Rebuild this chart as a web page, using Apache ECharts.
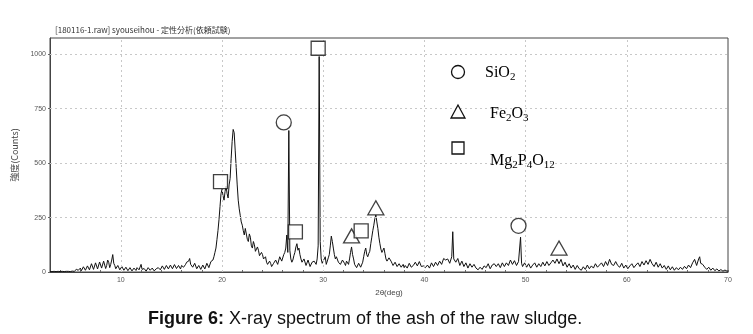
<!DOCTYPE html>
<html>
<head>
<meta charset="utf-8">
<script src="https://cdn.jsdelivr.net/npm/echarts@6/dist/echarts.min.js"></script>
<style>html,body{margin:0;padding:0;background:#fff}#c{width:753px;height:334px}</style>
</head>
<body>
<div id="c"></div>
<script>
// XRD scan: uniformly stepped 2θ from scanStart in steps of scanStep; counts
const scanStart = 3.0;
const scanStep = 0.1;
const counts = [
/* 3 */ 2,3,2,2,3,4,2,3,3,2,
/* 4 */ 2,3,3,2,2,4,3,2,3,3,
/* 5 */ 2,3,4,3,3,2,12,5,8,15,
/* 6 */ 18,6,10,24,22,8,14,28,30,10,
/* 7 */ 16,38,30,12,20,42,36,14,22,46,
/* 8 */ 38,18,25,50,42,16,30,55,45,20,
/* 9 */ 35,55,80,40,30,15,18,30,22,10,
/*10 */ 14,25,20,8,12,22,18,6,10,20,
/*11 */ 16,5,8,18,14,7,20,12,10,15,
/*12 */ 35,12,8,16,12,4,6,20,28,8,
/*13 */ 10,18,14,5,8,15,12,20,25,10,
/*14 */ 18,28,22,12,16,30,24,14,18,32,
/*15 */ 26,15,20,34,28,16,18,30,24,14,
/*16 */ 30,38,22,28,35,45,40,50,62,35,
/*17 */ 38,22,28,40,32,15,18,30,26,12,
/*18 */ 16,32,30,14,22,40,38,20,28,48,
/*19 */ 45,55,70,90,110,150,190,240,300,360,
/*20 */ 380,350,330,370,395,360,340,400,430,520,
/*21 */ 600,655,640,560,480,400,330,290,260,230,
/*22 */ 215,190,170,200,195,150,140,175,160,120,
/*23 */ 110,140,125,95,90,115,100,75,70,90,
/*24 */ 80,60,55,70,45,35,30,50,40,25,
/*25 */ 25,40,45,55,60,35,40,70,75,50,
/*26 */ 55,80,90,110,170,90,650,100,60,45,
/*27 */ 55,75,90,115,130,100,110,80,60,45,
/*28 */ 40,60,55,30,35,55,50,25,30,45,
/*29 */ 40,50,45,35,60,120,990,140,60,40,
/*30 */ 45,60,70,35,40,65,80,120,165,140,
/*31 */ 110,80,60,70,75,45,50,35,40,55,
/*32 */ 55,40,30,50,45,35,60,90,115,80,
/*33 */ 60,35,30,20,20,40,35,22,25,45,
/*34 */ 70,95,110,80,70,85,95,130,160,190,
/*35 */ 215,245,262,230,200,160,130,105,90,100,
/*36 */ 110,85,60,50,45,65,70,50,40,30,
/*37 */ 30,45,45,25,25,38,40,22,30,35,
/*38 */ 20,30,35,18,25,40,40,22,20,30,
/*39 */ 35,45,50,28,30,48,45,25,20,28,
/*40 */ 30,20,15,32,35,18,25,42,40,25,
/*41 */ 30,45,45,30,35,50,55,35,40,62,
/*42 */ 70,55,50,60,60,40,45,70,185,60,
/*43 */ 55,45,40,62,60,30,35,50,45,25,
/*44 */ 30,42,40,18,20,38,35,22,25,35,
/*45 */ 30,18,15,10,8,22,25,12,18,28,
/*46 */ 30,20,22,38,35,15,20,32,30,38,
/*47 */ 40,25,28,38,35,20,22,42,40,25,
/*48 */ 30,42,45,30,35,55,55,35,40,52,
/*49 */ 50,30,35,48,45,160,40,25,30,42,
/*50 */ 40,22,25,38,35,18,20,32,30,42,
/*51 */ 40,22,25,38,35,25,30,45,45,28,
/*52 */ 30,48,50,30,35,42,40,55,55,40,
/*53 */ 45,60,65,38,40,58,55,28,30,45,
/*54 */ 40,22,25,38,35,18,20,32,30,12,
/*55 */ 15,30,28,15,20,8,10,24,22,12,
/*56 */ 15,32,30,15,18,28,25,18,20,38,
/*57 */ 35,22,25,32,30,42,40,25,28,48,
/*58 */ 45,30,35,58,55,35,40,30,30,48,
/*59 */ 45,30,35,22,25,40,38,18,20,32,
/*60 */ 30,15,18,28,25,38,35,20,22,32,
/*61 */ 30,42,40,25,28,48,45,32,35,52,
/*62 */ 50,35,38,58,55,38,40,25,30,45,
/*63 */ 42,22,25,38,35,18,20,30,28,12,
/*64 */ 15,28,25,10,12,24,22,8,10,20,
/*65 */ 18,10,12,22,20,12,14,26,25,15,
/*66 */ 18,32,30,20,22,42,40,58,55,30,
/*67 */ 35,60,70,40,45,35,30,22,20,12,
/*68 */ 15,22,20,8,10,18,15,6,8,14,
/*69 */ 12,5,6,11,10,4,5,9,8,4,
/*70 */ 5
];

// Phase marker positions [2θ, counts]
const sio2Marks = [[26.1, 687], [49.3, 212]];
const fe2o3Marks = [[32.8, 166], [35.2, 295], [53.3, 110]];
const mgpoMarks = [[19.85, 415], [27.25, 184], [33.75, 189], [29.5, 1028]];

// Axis ticks and labels
const xLabels = [10, 20, 30, 40, 50, 60, 70];
const xMinorTicks = [4,6,8,10,12,14,16,18,20,22,24,26,28,30,32,34,36,38,40,42,44,46,48,50,52,54,56,58,60,62,64,66,68,70];
const xGrid = [10, 20, 30, 40, 50, 60];
const yGrid = [250, 500, 750, 1000];

const chartTitle = '[180116-1.raw] syouseihou - 定性分析(依頼試験)';
const xName = '2θ(deg)';
const yName = '強度(Counts)';

const spectrum = counts.map((c, i) => [+(scanStart + i * scanStep).toFixed(1), c]);

const chart = echarts.init(document.getElementById('c'), null, {renderer: 'canvas'});

const gridLines = [];
xGrid.forEach(v => gridLines.push({xAxis: v}));
yGrid.forEach(v => gridLines.push({yAxis: v}));

const markStyle = {color: '#fff', borderColor: '#111', borderWidth: 1.3};

const serif = '"Liberation Serif","DejaVu Serif",serif';
const legendRich = {
  n: {fontFamily: serif, fontSize: 16, color: '#111', verticalAlign: 'top', lineHeight: 18, padding: [0, 0, 6, 0]},
  s: {fontFamily: serif, fontSize: 11, color: '#111', verticalAlign: 'bottom', lineHeight: 13}
};

chart.setOption({
  animation: false,
  backgroundColor: '#fff',
  title: [
    {text: chartTitle, left: 50, top: 21,
     textStyle: {fontSize: 8, fontWeight: 'normal', color: '#333', fontFamily: '"Noto Sans CJK JP","DejaVu Sans",sans-serif'}},
    {text: '{b|Figure 6:}{n| X-ray spectrum of the ash of the raw sludge.}', left: 143, top: 305,
     textStyle: {rich: {
       b: {fontSize: 18, fontWeight: 'bold', color: '#111', fontFamily: '"Liberation Sans",Arial,sans-serif'},
       n: {fontSize: 18, fontWeight: 'normal', color: '#111', fontFamily: '"Liberation Sans",Arial,sans-serif'}
     }}}
  ],
  grid: {left: 50, top: 38, right: 25, bottom: 62, show: true, borderColor: '#444', borderWidth: 1, backgroundColor: 'transparent'},
  xAxis: {
    type: 'value', min: 3, max: 70,
    name: xName, nameLocation: 'middle', nameGap: 10,
    nameTextStyle: {fontSize: 8, color: '#444'},
    axisLine: {lineStyle: {color: '#444'}},
    axisTick: {show: true, length: 2, inside: true, customValues: xMinorTicks, lineStyle: {color: '#666'}},
    axisLabel: {fontSize: 7, color: '#555', margin: 5, customValues: xLabels},
    splitLine: {show: false}
  },
  yAxis: {
    type: 'value', min: 0, max: 1075, interval: 250,
    name: yName, nameLocation: 'middle', nameGap: 28, nameRotate: 90,
    nameTextStyle: {fontSize: 9, color: '#444', fontFamily: '"Noto Sans CJK JP","DejaVu Sans",sans-serif'},
    axisLine: {show: true, lineStyle: {color: '#444'}},
    axisTick: {show: true, length: 2, lineStyle: {color: '#666'}},
    axisLabel: {fontSize: 7, color: '#555', margin: 4, showMaxLabel: false, formatter: v => String(v)},
    splitLine: {show: false}
  },
  series: [
    {
      type: 'line', data: spectrum, symbol: 'none', silent: true,
      lineStyle: {color: '#111', width: 1},
      markLine: {silent: true, symbol: 'none', label: {show: false},
        lineStyle: {color: '#c8c8c8', type: [2, 3], width: 1}, data: gridLines},
      z: 2
    },
    {type: 'scatter', data: sio2Marks, symbol: 'circle', symbolSize: 15, itemStyle: markStyle, z: 5, silent: true},
    {type: 'scatter', data: fe2o3Marks, symbol: 'triangle', symbolSize: [16, 14], itemStyle: markStyle, z: 5, silent: true},
    {type: 'scatter', data: mgpoMarks, symbol: 'rect', symbolSize: 14, itemStyle: markStyle, z: 5, silent: true}
  ],
  graphic: [
    {type: 'circle', shape: {cx: 458, cy: 72, r: 6.5}, style: {fill: '#fff', stroke: '#111', lineWidth: 1.3}, z: 10},
    {type: 'text', left: 485, top: 65, style: {text: '{n|SiO}{s|2}', rich: legendRich}, z: 10},
    {type: 'polygon', shape: {points: [[458, 105], [451, 118], [465, 118]]}, style: {fill: '#fff', stroke: '#111', lineWidth: 1.3}, z: 10},
    {type: 'text', left: 490, top: 106, style: {text: '{n|Fe}{s|2}{n|O}{s|3}', rich: legendRich}, z: 10},
    {type: 'rect', shape: {x: 452, y: 142, width: 12, height: 12}, style: {fill: '#fff', stroke: '#111', lineWidth: 1.3}, z: 10},
    {type: 'text', left: 490, top: 153, style: {text: '{n|Mg}{s|2}{n|P}{s|4}{n|O}{s|12}', rich: legendRich}, z: 10}
  ]
});
</script>
</body>
</html>
